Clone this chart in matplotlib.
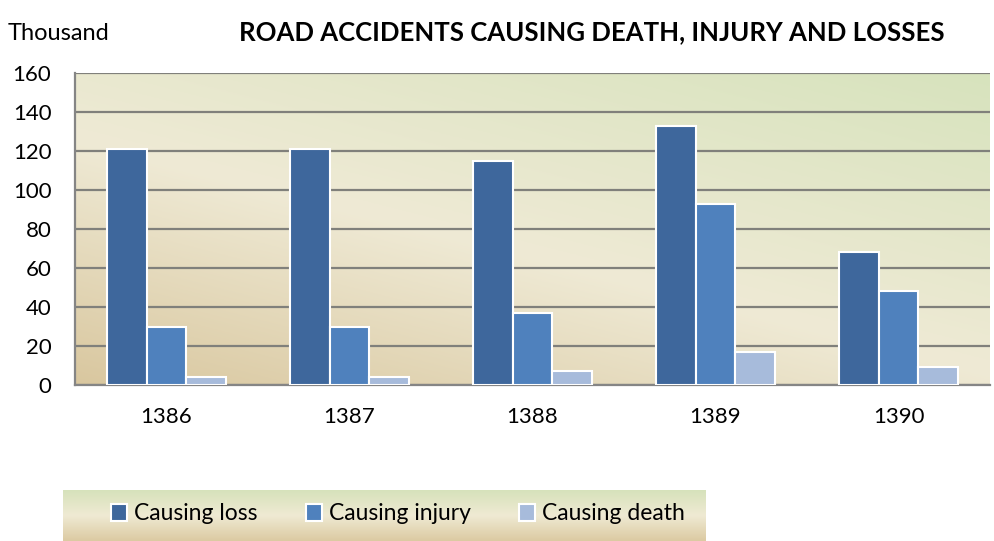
import numpy as np
import matplotlib
matplotlib.use("Agg")
import matplotlib.pyplot as plt
from matplotlib.transforms import ScaledTranslation
from matplotlib.colors import to_rgb

years = ["1386", "1387", "1388", "1389", "1390"]
series_names = ["Causing loss", "Causing injury", "Causing death"]
causing_loss = [121, 121, 115, 133, 68]
causing_injury = [30, 30, 37, 93, 48]
causing_death = [4, 4, 7, 17, 9]
colors = ["#3e679c", "#4f81bd", "#a7bbdb"]

plt.rcParams["font.family"] = ["Lato", "DejaVu Sans"]

fig = plt.figure(figsize=(9.94, 5.41), dpi=100)
ax = fig.add_axes([75/994, 1-385/541, (990-75)/994, (385-73)/541])

# gradient background
ny, nx = 200, 400
yy, xx = np.mgrid[0:1:ny*1j, 0:1:nx*1j]
t = np.clip((xx*0.6 + yy*0.8) / 1.4, 0, 1)  # 0 at bottom-left, 1 top-right
c0 = np.array(to_rgb("#d9c79f"))
c1 = np.array(to_rgb("#efead5"))
c2 = np.array(to_rgb("#d7e3bd"))
img = np.zeros((ny, nx, 3))
for k in range(3):
    img[..., k] = np.where(t < 0.45,
                           c0[k] + (c1[k]-c0[k]) * (t/0.45),
                           c1[k] + (c2[k]-c1[k]) * ((t-0.45)/0.55))
ax.imshow(img, extent=[-0.5, 4.5, 0, 160], origin="lower", aspect="auto", zorder=0)

x = np.arange(len(years))
w = 0.218
for i, (vals, name) in enumerate(zip([causing_loss, causing_injury, causing_death], series_names)):
    ax.bar(x + (i-1)*w, vals, width=w, color=colors[i], edgecolor="white", linewidth=1.5,
           label=name, zorder=3)

ax.set_xlim(-0.5, 4.5)
ax.set_ylim(0, 160)
ax.set_yticks(range(0, 161, 20))
ax.yaxis.grid(True, color="#80807b", linewidth=1.6, zorder=1)
ax.set_axisbelow(True)
ax.set_xticks(x)
ax.set_xticklabels(years, fontsize=16)
for lbl in ax.get_xticklabels():
    lbl.set_transform(lbl.get_transform() + ScaledTranslation(0.17, 0, fig.dpi_scale_trans))
ax.tick_params(axis="y", labelsize=16, length=0, pad=17)
ax.tick_params(axis="x", length=0, pad=16)
for s in ["top", "right"]:
    ax.spines[s].set_visible(False)
for s in ["left", "bottom"]:
    ax.spines[s].set_color("#858585")
    ax.spines[s].set_linewidth(1.6)

fig.text(8/994, 1-33/541, "Thousand", fontsize=17, va="center", ha="left")
fig.text(592/994, 1-32/541, "ROAD ACCIDENTS CAUSING DEATH, INJURY AND LOSSES",
         fontsize=18.5, fontweight="bold", va="center", ha="center")

# legend box with gradient
lax = fig.add_axes([63/994, 0, (706-63)/994, 51/541])
lg = np.zeros((100, 2, 3))
top = np.array(to_rgb("#d6e2bb"))
mid = np.array(to_rgb("#efead3"))
bot = np.array(to_rgb("#dccaa2"))
tt = np.linspace(0, 1, 100)[:, None]
for k in range(3):
    lg[..., k] = np.where(tt < 0.5, top[k] + (mid[k]-top[k])*(tt/0.5),
                          mid[k] + (bot[k]-mid[k])*((tt-0.5)/0.5))
lax.imshow(lg, extent=[0, 1, 0, 1], aspect="auto", origin="upper")
lax.set_axis_off()
handles, labels = ax.get_legend_handles_labels()
leg = fig.legend(handles, labels, loc="center", bbox_to_anchor=(398/994, 1-514/541),
                 ncol=3, frameon=False, fontsize=16.5, handlelength=0.7, handleheight=0.7,
                 columnspacing=2.1, handletextpad=0.3)

fig.savefig("out.png", dpi=100)
